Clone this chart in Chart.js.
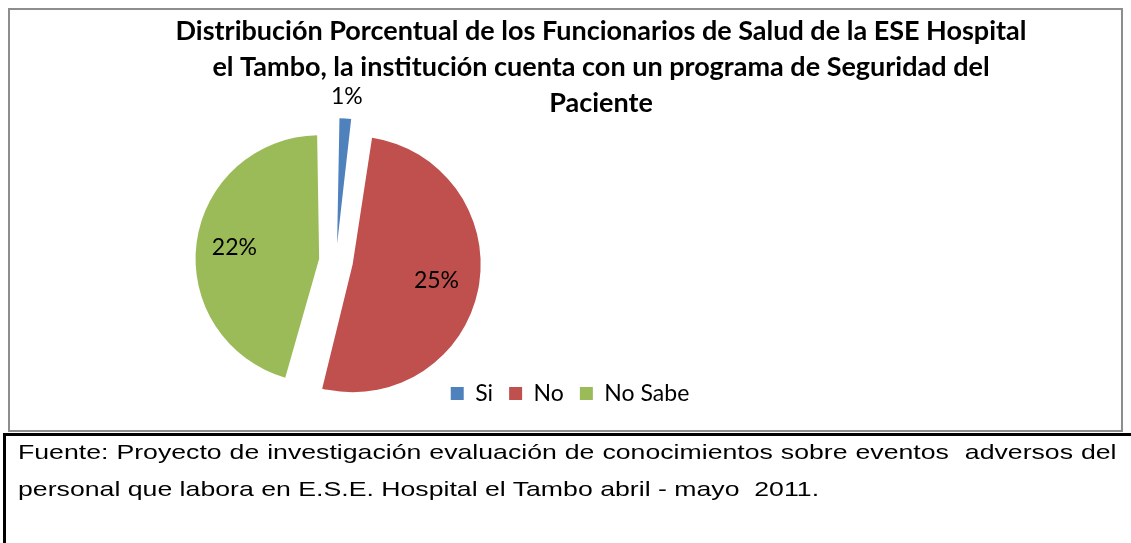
<!DOCTYPE html>
<html lang="es">
<head>
<meta charset="utf-8">
<title>Funcionarios de Salud - ESE Hospital el Tambo</title>
<script src="https://cdn.jsdelivr.net/npm/chart.js@4.4.1/dist/chart.umd.min.js"></script>
<style>
  html, body { margin: 0; padding: 0; background: #fff; }
  body { width: 1131px; height: 543px; position: relative; overflow: hidden; }
  #grafico_pie { position: absolute; left: 0; top: 0; }
  .marco {
    position: absolute; left: 8px; top: 8px; width: 1111px; height: 420px;
    border: 2px solid #8d8d8d; pointer-events: none;
  }
  .caja-fuente {
    position: absolute; left: 3px; top: 433px; width: 1160px; height: 140px;
    border: 3px solid #000;
  }
  .fuente {
    position: absolute; left: 18px; top: 433px; width: 865px;
    font-family: 'Liberation Sans', Arial, sans-serif; font-size: 21px; line-height: 37px;
    color: #000; transform: scaleX(1.27); transform-origin: 0 0;
  }
  .fuente .l1 { text-align: justify; text-align-last: justify; }
</style>
</head>
<body>
<canvas id="grafico_pie" width="1131" height="434"></canvas>
<div class="marco"></div>
<div class="caja-fuente"></div>
<div class="fuente">
  <div class="l1">Fuente: Proyecto de investigación evaluación de conocimientos sobre eventos&nbsp; adversos del</div>
  <div>personal que labora en E.S.E. Hospital el Tambo abril - mayo&nbsp; 2011.</div>
</div>
<script>
let ctx = document.getElementById('grafico_pie')

// dados
const categorias = ['Si', 'No', 'No Sabe']
const porcentajes = [1, 25, 22]
const colores = ['#4F81BD', '#C0504D', '#9BBB59']
const titulo = [
  'Distribución Porcentual de los Funcionarios de Salud de la ESE Hospital',
  'el Tambo, la institución cuenta con un programa de Seguridad del',
  'Paciente'
]

Chart.defaults.font.family = 'Lato, sans-serif'
Chart.defaults.color = '#000'

// the pie sits left, the legend row is not centred under the title
const PIE_X = 336, PIE_Y = 261
const LEGEND_X = 570

const colocar = {
  id: 'colocar',
  afterLayout(chart) {
    const a = chart.chartArea
    a.left = PIE_X - 150; a.right = PIE_X + 150
    a.top = PIE_Y - 140; a.bottom = PIE_Y + 140
    a.width = 300; a.height = 280
    const lg = chart.legend
    const dx = LEGEND_X - (lg.left + lg.right) / 2
    lg.left += dx
    lg.right += dx
  }
}

// percentage labels on the slices
const etiquetas = {
  id: 'etiquetas',
  afterDatasetsDraw(chart) {
    const c = chart.ctx
    const arcs = chart.getDatasetMeta(0).data
    c.save()
    c.font = '23px Lato'
    c.fillStyle = '#000'
    c.textAlign = 'center'
    c.textBaseline = 'middle'
    arcs.forEach((arc, i) => {
      const mid = (arc.startAngle + arc.endAngle) / 2
      const shift = arc.options.offset / 4   // chart.js moves the slice by offset/4
      const thin = arc.circumference < 0.3
      const r = shift + (thin ? arc.outerRadius + 37 : arc.outerRadius * 0.77)
      c.fillText(porcentajes[i] + '%', arc.x + Math.cos(mid) * r, arc.y + Math.sin(mid) * r)
    })
    c.restore()
  }
}

const data = {
  labels: categorias,
  datasets: [{
    data: porcentajes,
    backgroundColor: colores,
    borderWidth: 0,
    offset: 68
  }]
}

const config = {
  type: 'pie',
  data,
  options: {
    responsive: false,
    maintainAspectRatio: false,
    animation: false,
    radius: 111,
    layout: { padding: { left: 71, right: 0, top: 0, bottom: 19 } },
    plugins: {
      title: {
        display: true,
        text: titulo,
        color: '#000',
        font: { size: 27, weight: 'bold', lineHeight: 36 / 27 },
        padding: { top: 13, bottom: 0 }
      },
      legend: {
        position: 'bottom',
        labels: {
          color: '#000',
          font: { size: 23 },
          boxWidth: 13,
          boxHeight: 13,
          padding: 16
        }
      },
      tooltip: { enabled: false }
    }
  },
  plugins: [colocar, etiquetas]
}

const graph = new Chart(ctx, config)
</script>
</body>
</html>
